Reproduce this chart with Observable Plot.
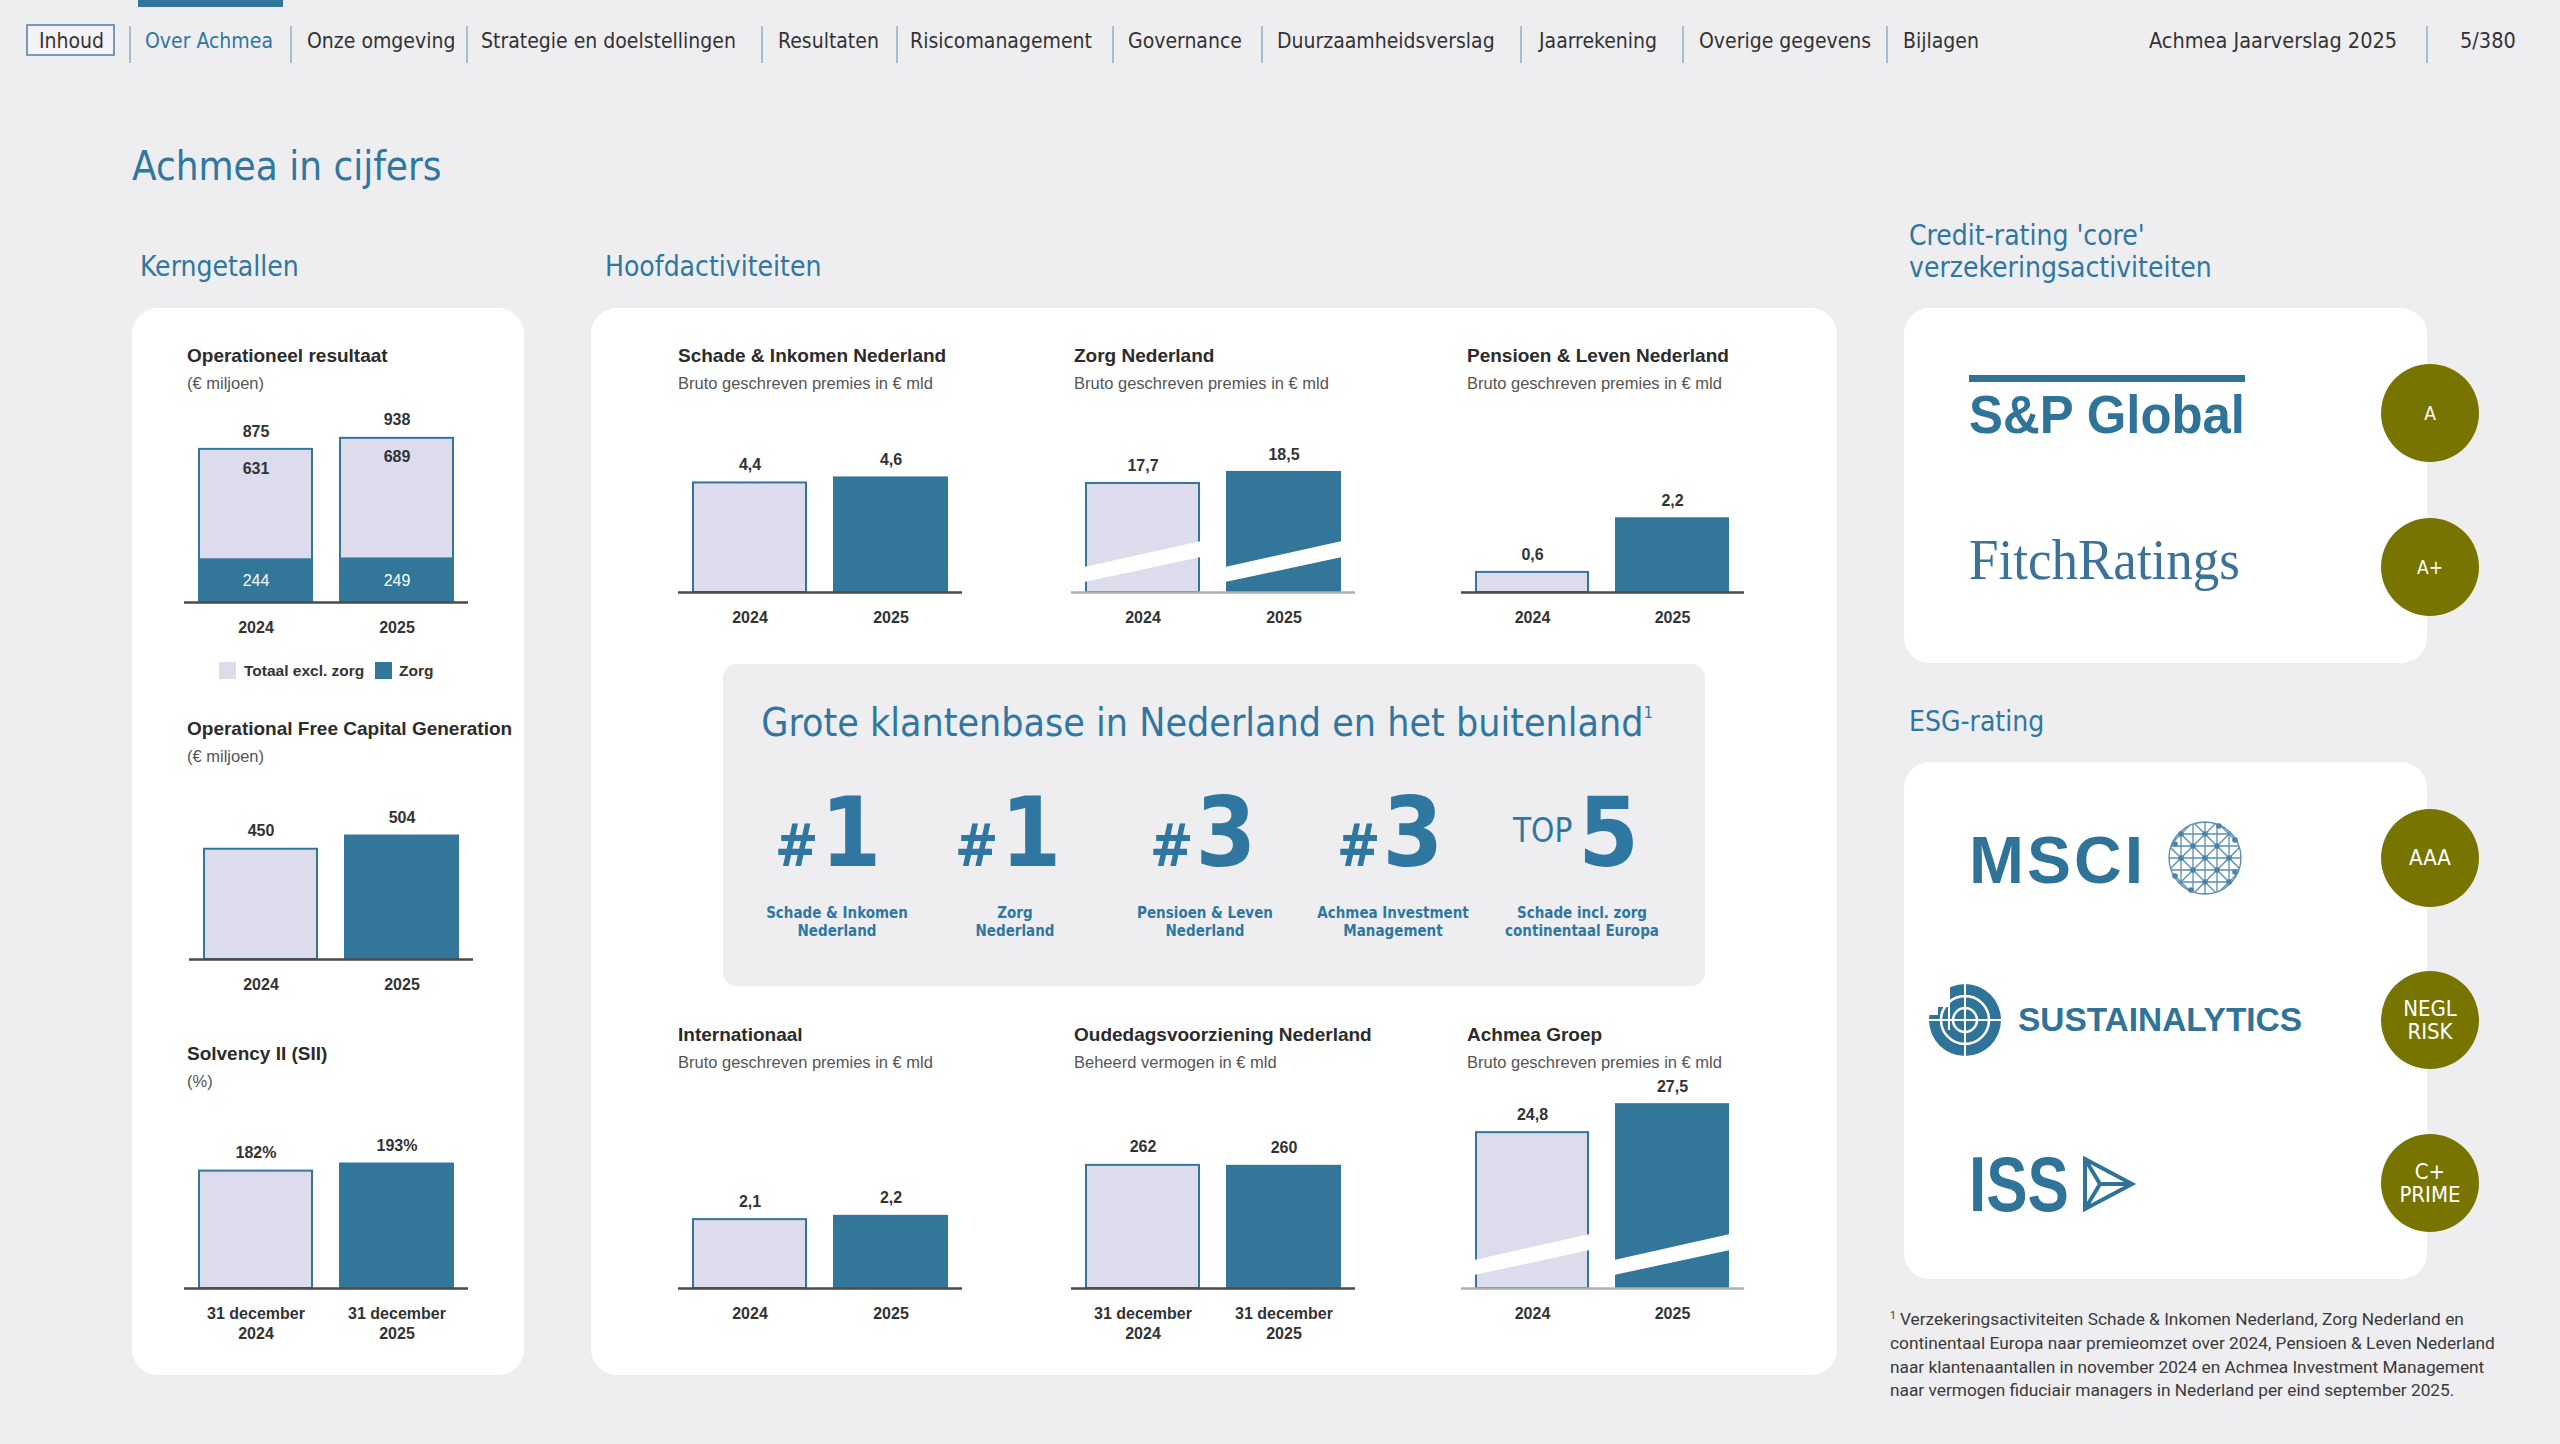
<!DOCTYPE html>
<html><head><meta charset="utf-8">
<script src="https://cdn.jsdelivr.net/npm/d3@7"></script>
<script src="https://cdn.jsdelivr.net/npm/@observablehq/plot@0.6"></script>
<style>
html,body{margin:0;padding:0;background:#eeeef0;}
#page{position:relative;width:2560px;height:1444px;overflow:hidden;background:#eeeef0;}
#page svg{position:absolute;}
</style></head><body><div id="page"></div>
<script>
// ---------------- DATA ----------------
const years = ["2024", "2025"];
const dateLabels = ["31 december\n2024", "31 december\n2025"];
const opResSeries = ["Zorg", "Totaal excl. zorg"];
const opResZorg = [244, 249];
const opResExcl = [631, 689];
const opResTotal = [875, 938];
const ofcg = [450, 504];
const solvency = [182, 193];
const schadeInkomen = [4.4, 4.6];
const zorgNL = [17.7, 18.5];
const pensioenLeven = [0.6, 2.2];
const internationaal = [2.1, 2.2];
const oudedags = [262, 260];
const achmeaGroep = [24.8, 27.5];
const rankPrefix = ["#", "#", "#", "#", "TOP"];
const rankValue = ["1", "1", "3", "3", "5"];
const rankLabels = [["Schade & Inkomen", "Nederland"], ["Zorg", "Nederland"], ["Pensioen & Leven", "Nederland"], ["Achmea Investment", "Management"], ["Schade incl. zorg", "continentaal Europa"]];
const creditAgencies = ["S&P Global", "FitchRatings"];
const creditRatings = [["A"], ["A+"]];
const esgAgencies = ["MSCI", "SUSTAINALYTICS", "ISS"];
const esgRatings = [["AAA"], ["NEGL", "RISK"], ["C+", "PRIME"]];
const navItems = ["Over Achmea", "Onze omgeving", "Strategie en doelstellingen", "Resultaten", "Risicomanagement", "Governance", "Duurzaamheidsverslag", "Jaarrekening", "Overige gegevens", "Bijlagen"];
const footnote = ["Verzekeringsactiviteiten Schade & Inkomen Nederland, Zorg Nederland en", "continentaal Europa naar premieomzet over 2024, Pensioen & Leven Nederland", "naar klantenaantallen in november 2024 en Achmea Investment Management", "naar vermogen fiduciair managers in Nederland per eind september 2025."];

// ---------------- STYLE ----------------
const BLUE = "#32769a", LAV = "#dcdcec", OLIVE = "#777500", TBLUE = "#2f77a0", DARK = "#333";
const DIN = '"DejaVu Sans Condensed","DejaVu Sans",sans-serif';
const SANS = '"Liberation Sans",Arial,sans-serif';
const ROB = 'Roboto,"Liberation Sans",sans-serif';

const page = document.getElementById("page");
const bg = d3.select(page).append("svg").attr("width", 2560).attr("height", 1444).style("left", "0px").style("top", "0px");

function rect(x, y, w, h, rx, fill) { return bg.append("rect").attr("x", x).attr("y", y).attr("width", w).attr("height", h).attr("rx", rx).attr("fill", fill); }
function txt(s, x, y, o = {}) {
  const t = bg.append("text").attr("x", x).attr("y", y).attr("font-family", o.family || SANS).attr("font-size", o.size || 16)
    .attr("font-weight", o.weight || 400).attr("fill", o.fill || DARK).attr("text-anchor", o.anchor || "start");
  if (o.stretch) t.attr("font-stretch", "condensed");
  if (o.len) t.attr("textLength", o.len).attr("lengthAdjust", o.adjust || "spacingAndGlyphs");
  t.text(s);
  return t;
}

// ---------------- NAV ----------------
rect(138, 0, 145, 7, 0, BLUE);
bg.append("rect").attr("x", 27).attr("y", 25).attr("width", 87).attr("height", 30).attr("fill", "#f3f3f5").attr("stroke", "#4f7fa3").attr("stroke-width", 1.5);
txt("Inhoud", 39, 48, {family: DIN, size: 21, stretch: true});
const navX = [145, 307, 481, 778, 910, 1128, 1277, 1539, 1699, 1903];
navItems.forEach((s, i) => txt(s, navX[i], 48, {family: DIN, size: 21, stretch: true, fill: i === 0 ? TBLUE : DARK}));
txt("Achmea Jaarverslag 2025", 2149, 48, {family: DIN, size: 21.5, stretch: true});
txt("5/380", 2460, 48, {family: DIN, size: 21.5, stretch: true});
[130, 291, 467, 762, 897, 1113, 1262, 1521, 1683, 1887, 2427].forEach(x =>
  bg.append("line").attr("x1", x).attr("x2", x).attr("y1", 26).attr("y2", 63).attr("stroke", "#86afc9").attr("stroke-width", 1.5));

// ---------------- HEADINGS ----------------
txt("Achmea in cijfers", 132, 180, {family: DIN, size: 40, stretch: true, fill: TBLUE});
txt("Kerngetallen", 140, 276, {family: DIN, size: 28, stretch: true, fill: TBLUE});
txt("Hoofdactiviteiten", 605, 276, {family: DIN, size: 28, stretch: true, fill: TBLUE});
txt("Credit-rating 'core'", 1909, 245, {family: DIN, size: 28, stretch: true, fill: TBLUE});
txt("verzekeringsactiviteiten", 1909, 277, {family: DIN, size: 28, stretch: true, fill: TBLUE});
txt("ESG-rating", 1909, 731, {family: DIN, size: 28, stretch: true, fill: TBLUE});

// ---------------- PANELS ----------------
rect(132, 308, 392, 1067, 26, "#fff");
rect(591, 308, 1246, 1067, 26, "#fff");
rect(723, 664, 982, 322, 14, "#eeeef1");
rect(1904, 308, 523, 355, 26, "#fff");
rect(1904, 762, 523, 517, 26, "#fff");

// ---------------- CHART TITLES ----------------
function title(t, sub, x, yb) {
  txt(t, x, yb, {size: 19, weight: 700, fill: "#2b2b2b"});
  txt(sub, x, yb + 27, {size: 16.5, fill: "#555"});
}
title("Operationeel resultaat", "(€ miljoen)", 187, 362);
title("Operational Free Capital Generation", "(€ miljoen)", 187, 735);
title("Solvency II (SII)", "(%)", 187, 1060);
const sub1 = "Bruto geschreven premies in € mld";
title("Schade & Inkomen Nederland", sub1, 678, 362);
title("Zorg Nederland", sub1, 1074, 362);
title("Pensioen & Leven Nederland", sub1, 1467, 362);
title("Internationaal", sub1, 678, 1041);
title("Oudedagsvoorziening Nederland", "Beheerd vermogen in € mld", 1074, 1041);
title("Achmea Groep", sub1, 1467, 1041);

// legend
rect(219, 662, 17, 17, 0, LAV);
txt(opResSeries[1], 244, 676, {size: 15.5, weight: 700});
rect(375, 662, 17, 17, 0, BLUE);
txt(opResSeries[0], 399, 676, {size: 15.5, weight: 700});

// ---------------- BIG BOX ----------------
const gt = txt("Grote klantenbase in Nederland en het buitenland", 1207, 736, {family: DIN, size: 39, stretch: true, fill: TBLUE, anchor: "middle"});
gt.append("tspan").attr("font-size", 16).attr("dy", -18).text("1");
const rankCx = [828, 1008, 1203, 1390, 1576];
const labCx = [837, 1015, 1205, 1393, 1582];
rankValue.forEach((v, i) => {
  const t = bg.append("text").attr("x", rankCx[i]).attr("y", 866).attr("text-anchor", "middle").attr("font-family", DIN).attr("font-stretch", "condensed").attr("font-weight", 700).attr("fill", TBLUE);
  if (rankPrefix[i] === "TOP") {
    t.append("tspan").attr("font-size", 33).attr("font-weight", 400).attr("dy", -24).text("TOP");
    t.append("tspan").attr("font-size", 97).attr("dy", 24).attr("dx", 6).text(v);
  } else {
    t.append("tspan").attr("font-size", 58).text(rankPrefix[i]);
    t.append("tspan").attr("font-size", 97).attr("dx", 2).text(v);
  }
  rankLabels[i].forEach((l, j) => txt(l, labCx[i], 918 + j * 18, {family: DIN, size: 15, weight: 700, stretch: true, fill: TBLUE, anchor: "middle"}));
});

// ---------------- LOGOS ----------------
const LB = "#2f7398";
rect(1969, 375, 276, 7, 0, LB);
txt(creditAgencies[0], 1969, 433, {size: 53, weight: 700, fill: LB, len: 276});
txt(creditAgencies[1], 1969, 579, {family: '"Liberation Serif","Times New Roman",serif', size: 57, fill: "#3a7299", len: 271});
txt(esgAgencies[0], 1969, 883, {size: 66, weight: 700, fill: LB, len: 174, adjust: "spacing"});
txt(esgAgencies[1], 2018, 1031, {size: 33, weight: 700, fill: LB, len: 284});
txt(esgAgencies[2], 1969, 1211, {size: 78, weight: 700, fill: LB, len: 100});
// globe
(function () {
  const cx = 2205, cy = 858, r = 36;
  const g = bg.append("g");
  const cp = bg.append("clipPath").attr("id", "gclip");
  cp.append("circle").attr("cx", cx).attr("cy", cy).attr("r", r);
  const gl = g.append("g").attr("clip-path", "url(#gclip)").attr("stroke", "#5b8db0").attr("stroke-width", 1.3).attr("fill", "none");
  g.append("circle").attr("cx", cx).attr("cy", cy).attr("r", r).attr("fill", "none").attr("stroke", "#5b8db0").attr("stroke-width", 1.3);
  for (let k = -3; k <= 3; k++) {
    gl.append("line").attr("x1", cx + k * 12).attr("x2", cx + k * 12).attr("y1", cy - r).attr("y2", cy + r);
    gl.append("line").attr("y1", cy + k * 12).attr("y2", cy + k * 12).attr("x1", cx - r).attr("x2", cx + r);
    gl.append("line").attr("x1", cx - r + k * 24).attr("y1", cy - r).attr("x2", cx + r + k * 24).attr("y2", cy + r);
    gl.append("line").attr("x1", cx + r + k * 24).attr("y1", cy - r).attr("x2", cx - r + k * 24).attr("y2", cy + r);
  }
  const pts = [[0, 0], [-24, 0], [24, 0], [0, -24], [0, 24], [-12, -12], [12, 12], [-12, 12], [12, -12], [-24, -24], [24, 24], [-30, -14], [30, 14], [14, -32], [-14, 32], [30, -18], [-30, 18]];
  pts.forEach(([dx, dy]) => { if (dx * dx + dy * dy <= r * r + 40) g.append("circle").attr("cx", cx + dx).attr("cy", cy + dy).attr("r", 2.8).attr("fill", "#4a82a8"); });
})();
// sustainalytics icon
(function () {
  const cx = 1965, cy = 1020;
  const g = bg.append("g");
  g.append("circle").attr("cx", cx).attr("cy", cy).attr("r", 36).attr("fill", LB);
  g.append("rect").attr("x", cx - 37).attr("y", cy - 37).attr("width", 20).attr("height", 24).attr("fill", "#fff");
  g.append("rect").attr("x", cx - 37).attr("y", cy - 13).attr("width", 10).attr("height", 8).attr("fill", "#fff");
  [24, 12].forEach(rr => g.append("circle").attr("cx", cx).attr("cy", cy).attr("r", rr).attr("fill", "none").attr("stroke", "#fff").attr("stroke-width", 2.5));
  g.append("line").attr("x1", cx).attr("x2", cx).attr("y1", cy - 37).attr("y2", cy + 37).attr("stroke", "#fff").attr("stroke-width", 2);
  g.append("line").attr("x1", cx - 37).attr("x2", cx + 37).attr("y1", cy).attr("y2", cy).attr("stroke", "#fff").attr("stroke-width", 2);
  g.append("line").attr("x1", cx - 16).attr("x2", cx - 16).attr("y1", cy - 37).attr("y2", cy + 10).attr("stroke", "#fff").attr("stroke-width", 2);
})();
// ISS arrow
(function () {
  const g = bg.append("g").attr("fill", "none").attr("stroke", LB).attr("stroke-width", 4).attr("stroke-linejoin", "miter");
  g.append("polygon").attr("points", "2085,1159 2132,1184 2085,1209");
  g.append("polyline").attr("points", "2085,1159 2100,1184 2085,1209");
  g.append("line").attr("x1", 2100).attr("y1", 1184).attr("x2", 2132).attr("y2", 1184);
})();

// rating circles
const circY = [413, 567, 858, 1020, 1183];
const allRatings = creditRatings.concat(esgRatings);
allRatings.forEach((lines, i) => {
  bg.append("circle").attr("cx", 2430).attr("cy", circY[i]).attr("r", 49).attr("fill", OLIVE);
  const fs = i < 2 ? 19 : 22;
  if (lines.length === 1) txt(lines[0], 2430, circY[i] + 7, {family: DIN, size: fs, fill: "#fff", anchor: "middle", stretch: true});
  else lines.forEach((l, j) => txt(l, 2430, circY[i] - 4 + j * 23, {family: DIN, size: fs, fill: "#fff", anchor: "middle", stretch: true}));
});

// footnote
footnote.forEach((l, i) => {
  const t = txt("", 1890, 1325 + i * 23.8, {family: ROB, size: 17.3, fill: "#3a3a3a"});
  if (i === 0) { t.append("tspan").attr("font-size", 10.5).attr("dy", -6).text("1"); t.append("tspan").attr("dy", 6).attr("dx", 4).text(l); }
  else t.text(l);
});

// ---------------- CHARTS ----------------
const fmtDec = v => v.toFixed(1).replace(".", ",");
const fmtInt = v => String(v);
const fmtPct = v => v + "%";

function breakMark(lo, hi) {
  return (index, scales, values, dimensions) => {
    const x = scales.x, y = scales.y;
    const bw = typeof x.bandwidth === "function" ? x.bandwidth() : x.bandwidth;
    const yb = y(y.domain()[0]);
    const g = document.createElementNS("http://www.w3.org/2000/svg", "g");
    x.domain().forEach(c => {
      const x0 = x(c) - 2, x1 = x(c) + bw + 2;
      const p = document.createElementNS("http://www.w3.org/2000/svg", "polygon");
      p.setAttribute("points", `${x0},${yb - lo[0]} ${x1},${yb - hi[0]} ${x1},${yb - hi[1]} ${x0},${yb - lo[1]}`);
      p.setAttribute("fill", "#fff");
      g.appendChild(p);
    });
    return g;
  };
}

function makeChart(o) {
  const {values, x0, x1, baseline, ppu, base = 0, plotH, tickLabels = years, fmt = fmtDec, breakBand = null, axisColor = "#4a4a4a", stack = null} = o;
  const W = x1 - x0, mb = 65;
  const rows = years.map((c, i) => ({cat: c, v: values[i]}));
  const marks = [];
  let color;
  if (stack) {
    marks.push(Plot.barY(stack.rows, Plot.stackY({x: "cat", y: "v", fill: "series", stroke: BLUE, strokeWidth: 2})));
    color = {domain: opResSeries, range: [BLUE, LAV]};
  } else {
    marks.push(Plot.barY(rows, {x: "cat", y1: () => base, y2: "v", fill: "cat", stroke: BLUE, strokeWidth: 2}));
    color = {domain: years, range: [LAV, BLUE]};
  }
  if (breakBand) marks.push(breakMark(breakBand.lo, breakBand.hi));
  marks.push(Plot.ruleY([base], {stroke: axisColor, strokeWidth: 2.5}));
  marks.push(Plot.text(rows, {x: "cat", y: "v", text: d => fmt(d.v), dy: -18, fontWeight: "bold", fontSize: 16, fill: DARK}));
  if (stack) {
    marks.push(Plot.text(stack.inner, {x: "cat", y: "v", text: d => fmtInt(d.label), dy: 19, fontWeight: "bold", fontSize: 16, fill: DARK}));
    marks.push(Plot.text(stack.bottom, {x: "cat", y: d => d.v / 2, text: d => fmtInt(d.v), fontSize: 16, fill: "#fff"}));
  }
  const tf = d => tickLabels[years.indexOf(d)];
  if (typeof Plot.axisX === "function") {
    marks.push(Plot.axisX({tickSize: 0, tickPadding: 16, tickFormat: tf, fontWeight: "bold", fontSize: 16, lineHeight: 1.25, fill: DARK, label: null}));
  } else {
    marks.push(Plot.text(rows, {x: "cat", text: d => tf(d.cat), frameAnchor: "bottom", lineAnchor: "top", dy: 16, fontWeight: "bold", fontSize: 16, lineHeight: 1.25, fill: DARK}));
  }
  const svg = Plot.plot({
    width: W, height: plotH + mb, marginTop: 0, marginBottom: mb, marginLeft: 0, marginRight: 0,
    x: {type: "band", domain: years, paddingInner: 28 / 141, paddingOuter: 15 / 141, label: null, axis: typeof Plot.axisX === "function" ? undefined : null},
    y: {domain: [base, base + plotH / ppu], axis: null},
    color,
    style: {background: "transparent", overflow: "visible", fontFamily: SANS, fontSize: "16px", color: DARK},
    marks
  });
  svg.style.position = "absolute";
  svg.style.left = x0 + "px";
  svg.style.top = (baseline - plotH) + "px";
  page.appendChild(svg);
}

// Operationeel resultaat (stacked)
const stackRows = [];
years.forEach((y, i) => { stackRows.push({cat: y, series: opResSeries[0], v: opResZorg[i]}); stackRows.push({cat: y, series: opResSeries[1], v: opResExcl[i]}); });
makeChart({values: opResTotal, x0: 184, x1: 468, baseline: 602, ppu: 0.175, plotH: 200, fmt: fmtInt,
  stack: {rows: stackRows, inner: years.map((y, i) => ({cat: y, v: opResTotal[i], label: opResExcl[i]})), bottom: years.map((y, i) => ({cat: y, v: opResZorg[i]}))}});
makeChart({values: ofcg, x0: 189, x1: 473, baseline: 959, ppu: 0.245, plotH: 160, fmt: fmtInt});
makeChart({values: solvency, x0: 184, x1: 468, baseline: 1288, ppu: 0.645, plotH: 160, fmt: fmtPct, tickLabels: dateLabels});
makeChart({values: schadeInkomen, x0: 678, x1: 962, baseline: 592, ppu: 24.9, plotH: 160});
makeChart({values: zorgNL, x0: 1071, x1: 1355, baseline: 592, ppu: 13.75, base: 9.77, plotH: 160, breakBand: {lo: [10, 25], hi: [35, 51]}, axisColor: "#a9b0b6"});
makeChart({values: pensioenLeven, x0: 1461, x1: 1744, baseline: 592, ppu: 33.5, plotH: 160});
makeChart({values: internationaal, x0: 678, x1: 962, baseline: 1288, ppu: 32.8, plotH: 160});
makeChart({values: oudedags, x0: 1071, x1: 1355, baseline: 1288, ppu: 0.47, plotH: 160, fmt: fmtInt, tickLabels: dateLabels});
makeChart({values: achmeaGroep, x0: 1461, x1: 1744, baseline: 1288, ppu: 10.37, base: 9.77, plotH: 220, breakBand: {lo: [13, 28], hi: [38, 54]}, axisColor: "#a9b0b6"});
</script></body></html>
